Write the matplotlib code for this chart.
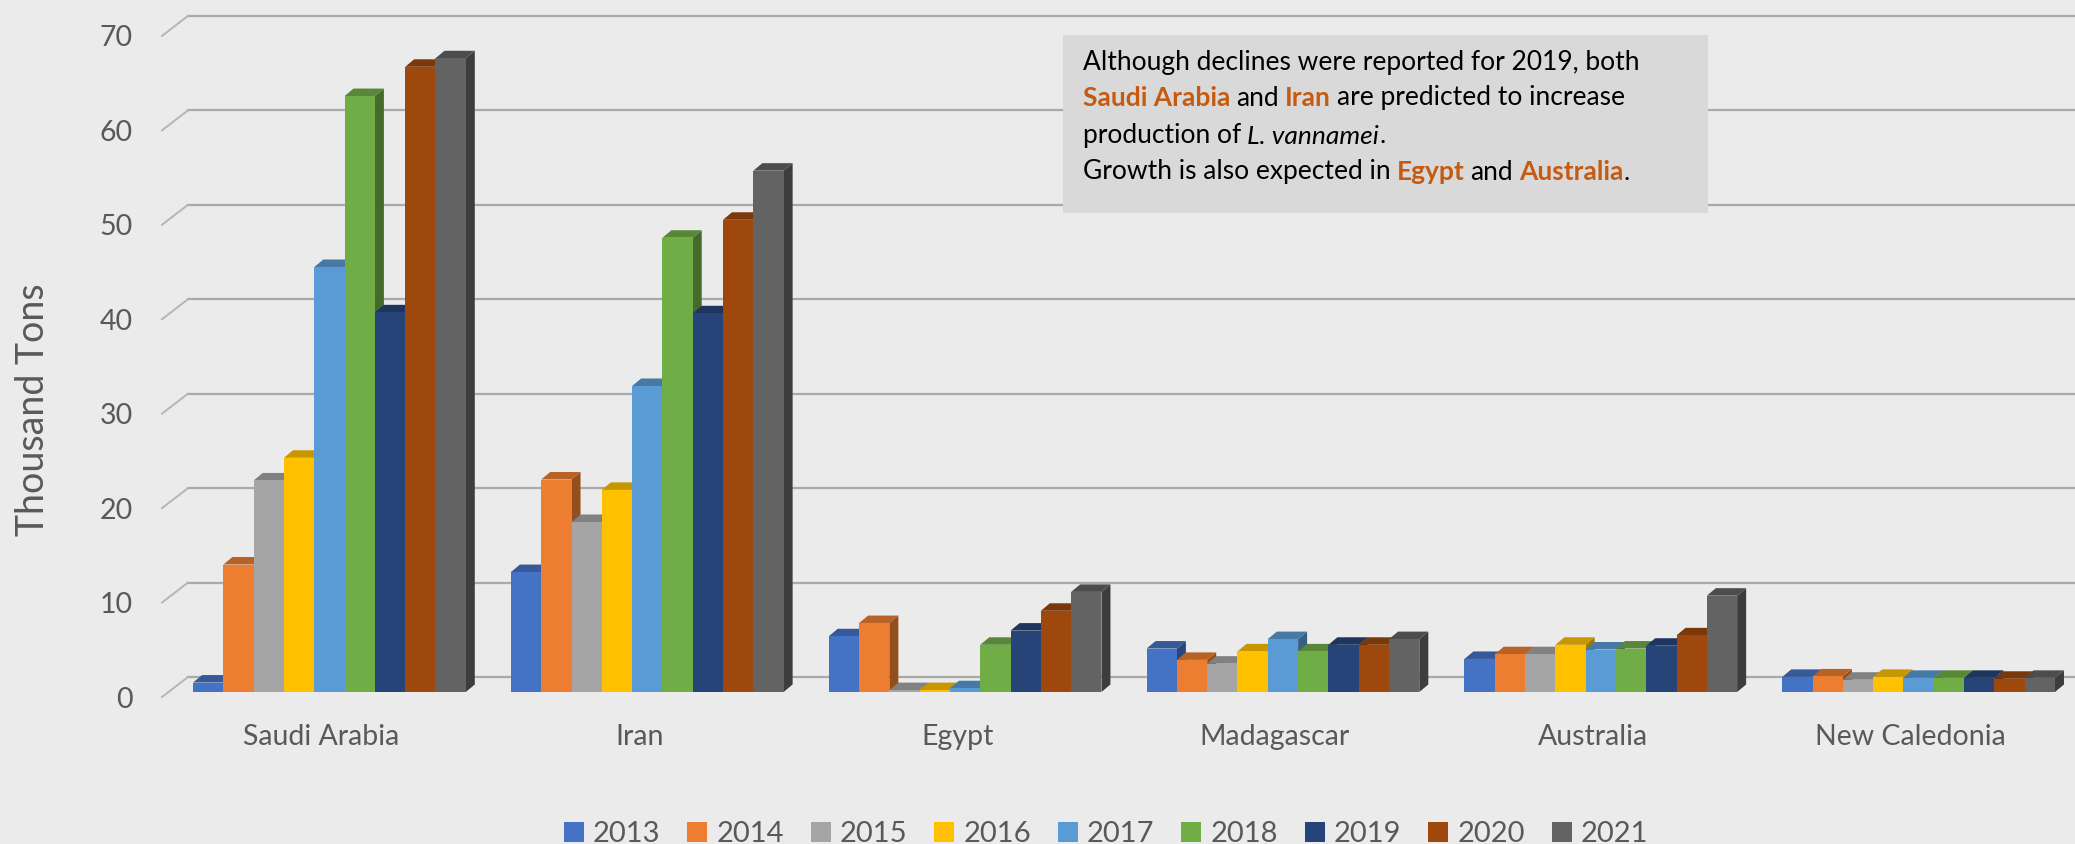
import matplotlib.pyplot as plt
import numpy as np
from matplotlib.collections import PolyCollection
from matplotlib.patches import Rectangle
from matplotlib.transforms import ScaledTranslation

plt.rcParams['font.family'] = ['Lato', 'DejaVu Sans']

# L. vannamei production, thousand tons
countries = ['Saudi Arabia', 'Iran', 'Egypt', 'Madagascar', 'Australia', 'New Caledonia']
years = ['2013', '2014', '2015', '2016', '2017', '2018', '2019', '2020', '2021']
prod_2013 = [1.0, 12.7, 5.9, 4.6, 3.5, 1.6]
prod_2014 = [13.5, 22.5, 7.3, 3.4, 4.0, 1.65]
prod_2015 = [22.4, 18.0, 0.2, 3.0, 4.0, 1.3]
prod_2016 = [24.8, 21.4, 0.2, 4.3, 5.0, 1.6]
prod_2017 = [45.0, 32.4, 0.4, 5.6, 4.5, 1.5]
prod_2018 = [63.1, 48.1, 5.0, 4.3, 4.6, 1.5]
prod_2019 = [40.2, 40.1, 6.5, 5.0, 4.9, 1.5]
prod_2020 = [66.2, 50.0, 8.6, 5.0, 6.0, 1.4]
prod_2021 = [67.1, 55.2, 10.6, 5.6, 10.2, 1.5]
series = [prod_2013, prod_2014, prod_2015, prod_2016, prod_2017,
          prod_2018, prod_2019, prod_2020, prod_2021]
colors = ['#4472C4', '#ED7D31', '#A5A5A5', '#FFC000', '#5B9BD5',
          '#70AD47', '#264478', '#9E480E', '#636363']

note_lines = [
    [('Although declines were reported for 2019, both', 'n')],
    [('Saudi Arabia', 'b'), (' and ', 'n'), ('Iran', 'b'), (' are predicted to increase', 'n')],
    [('production of ', 'n'), ('L. vannamei', 'i'), ('.', 'n')],
    [('Growth is also expected in ', 'n'), ('Egypt', 'b'), (' and ', 'n'), ('Australia', 'b'), ('.', 'n')],
]

W, H = 2075, 844
bg = '#ebebeb'
txt_gray = '#595959'
accent = '#C55A11'

fig = plt.figure(figsize=(W / 100, H / 100), dpi=100)
fig.patch.set_facecolor(bg)
ax = fig.add_axes([188 / W, (H - 692) / H, (W - 188) / W, 680 / H])
ax.set_facecolor('none')
xmin, xmax = -0.445, 5.492
ymin, ymax = 0, 72
ax.set_xlim(xmin, xmax)
ax.set_ylim(ymin, ymax)
for s in ax.spines.values():
    s.set_visible(False)

# pixels per data unit
ppx = (W - 188) / (xmax - xmin)
ppy = 680 / (ymax - ymin)

# back wall gridlines and left wall diagonals
ticks = np.arange(0, 71, 10)
back = 15 / ppy
front = -5 / ppy
for v in ticks:
    ax.plot([xmin, xmax], [v + back, v + back], color='#a9a9a9', lw=1.6, zorder=1, clip_on=False)
    ax.plot([xmin - 26 / ppx, xmin], [v + front, v + back], color='#b5b5b5', lw=1.4,
            zorder=1, clip_on=False)

# 3D-style clustered columns
n = len(series)
w = 30.3 / ppx
dx = 9 / ppx
dy = 7.5 / ppy
x = np.arange(len(countries))


def shade(c, f):
    rgb = np.array(plt.matplotlib.colors.to_rgb(c))
    return tuple(rgb * f)


bars = []
for j, (vals, c) in enumerate(zip(series, colors)):
    xs = x + (j - (n - 1) / 2) * w
    sides, tops = [], []
    for xc, v in zip(xs, vals):
        x0, x1 = xc - w / 2, xc + w / 2
        sides.append([(x1, 0), (x1 + dx, dy), (x1 + dx, v + dy), (x1, v)])
        tops.append([(x0, v), (x0 + dx, v + dy), (x1 + dx, v + dy), (x1, v)])
    ax.add_collection(PolyCollection(sides, facecolors=[shade(c, 0.62)], edgecolors='none',
                                     zorder=2 + j))
    ax.add_collection(PolyCollection(tops, facecolors=[shade(c, 0.78)], edgecolors='none',
                                     zorder=2 + j))
    bars.append(ax.bar(xs, vals, width=w, color=c, zorder=2 + j, label=years[j]))

# axis labels
ax.set_yticks(ticks)
ax.tick_params(axis='y', length=0, pad=55 * 0.72, labelsize=20.5, labelcolor=txt_gray)
for lab in ax.get_yticklabels():
    lab.set_transform(lab.get_transform() + ScaledTranslation(0, -5 / 100, fig.dpi_scale_trans))
ax.set_xticks(x)
ax.set_xticklabels(countries)
ax.tick_params(axis='x', length=0, pad=23, labelsize=20.5, labelcolor=txt_gray)
for lab in ax.get_xticklabels():
    lab.set_transform(lab.get_transform() + ScaledTranslation(-8 / 100, 0, fig.dpi_scale_trans))

fig.text(33 / W, 1 - 410 / H, 'Thousand Tons', rotation=90, fontsize=27, color=txt_gray,
         ha='center', va='center')

# note box
ax.add_patch(Rectangle((1063 / W, 1 - 213 / H), 645 / W, 178 / H, transform=fig.transFigure,
                       facecolor='#d9d9d9', edgecolor='none', zorder=20, clip_on=False))
fs = 19
space = 0.23 * fs
styles = {'n': dict(color='black'),
          'b': dict(color=accent, fontweight='bold'),
          'i': dict(color='black', style='italic')}
y0 = 70
for i, line in enumerate(note_lines):
    prev = None
    prev_txt = ''
    for seg, st in line:
        gap = space if (seg.startswith(' ') or prev_txt.endswith(' ')) else 0
        if prev is None:
            prev = ax.text(1083 / W, 1 - (y0 + i * 36.5) / H, seg.strip(), transform=fig.transFigure,
                           fontsize=fs, va='baseline', ha='left', zorder=21, clip_on=False,
                           **styles[st])
        else:
            prev = ax.annotate(seg.strip(), xy=(1, 0), xycoords=prev, xytext=(gap, 0),
                               textcoords='offset points', fontsize=fs, va='bottom', ha='left',
                               zorder=21, annotation_clip=False, **styles[st])
        prev_txt = seg

fig.legend(handles=bars, labels=years, ncol=9, loc='center',
           bbox_to_anchor=(1106 / W, 1 - 834 / H), frameon=False, fontsize=21,
           labelcolor=txt_gray, handlelength=0.69, handleheight=0.69, handletextpad=0.31,
           columnspacing=0.92, borderpad=0)

fig.savefig('out.png', dpi=100, facecolor=bg)
